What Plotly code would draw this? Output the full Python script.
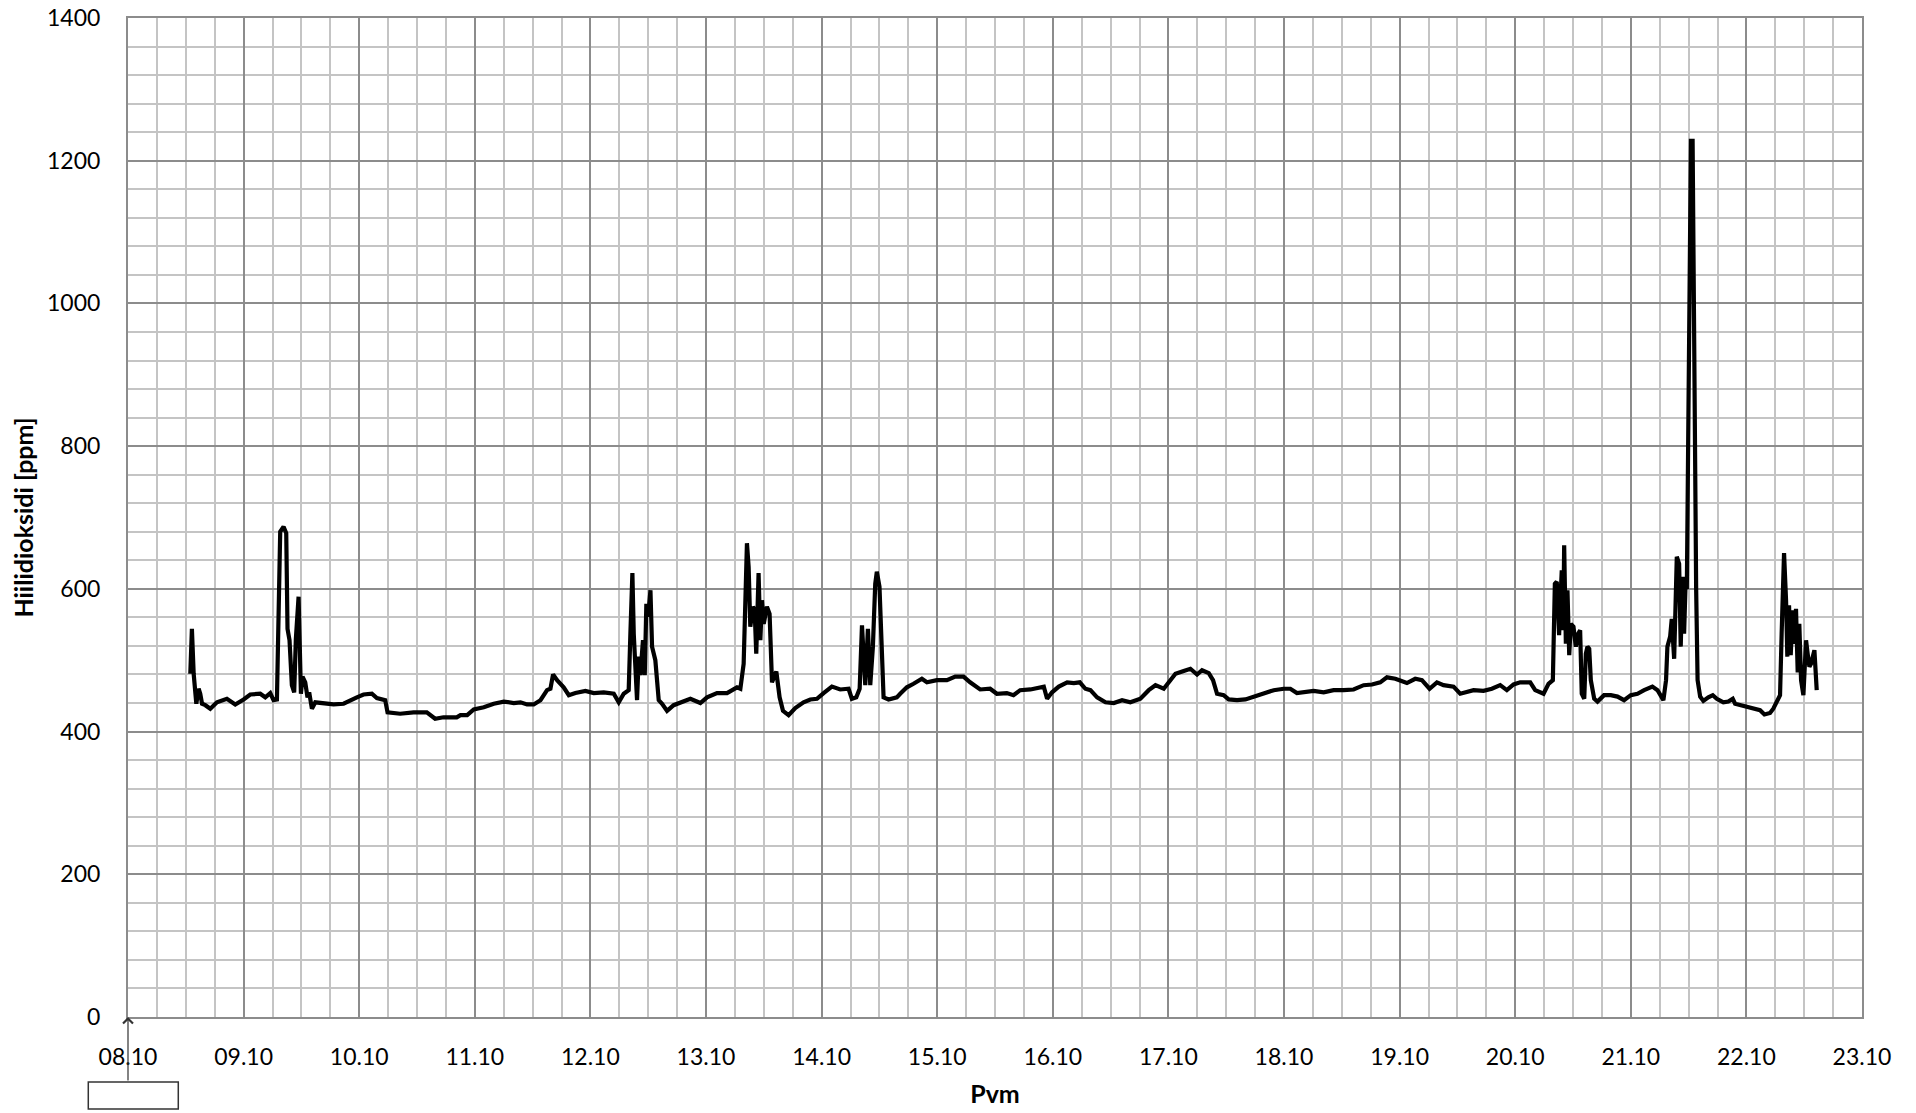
import plotly.graph_objects as go

# CO2 readings (year is not shown, 2014 assumed)
day_times = {
    "08": ["12:56", "13:16", "13:38", "14:11", "14:40", "15:00", "15:22", "16:03", "17:05", "18:28", "20:32", "22:16"],
    "09": ["00:00", "01:23", "03:27", "04:30", "05:32", "06:13", "06:55", "07:36", "08:18", "08:51", "09:07", "09:32",
           "10:01", "10:30", "10:51", "11:25", "11:54", "12:14", "12:48", "13:16", "13:37", "14:11", "14:53", "16:36",
           "18:41", "20:45", "22:08", "23:31"],
    "10": ["00:54", "02:38", "03:40", "05:24", "05:53", "08:30", "11:17", "14:02", "15:46", "17:30", "20:15", "21:01",
           "22:25", "23:47"],
    "11": ["01:52", "03:56", "06:01", "08:05", "09:29", "10:51", "12:14", "13:38", "15:00", "15:42", "16:15", "17:05",
           "18:27", "19:31", "20:53", "22:58"],
    "12": ["00:42", "02:46", "04:51", "05:53", "06:55", "07:57", "08:18", "08:43", "09:00", "09:41", "10:02", "10:22",
           "10:55", "11:17", "11:37", "11:59", "12:28", "12:48", "13:29", "14:11", "14:53", "15:55", "17:17", "18:40",
           "20:45", "22:50"],
    "13": ["00:13", "02:17", "04:22", "06:26", "07:08", "07:49", "08:10", "08:30", "08:51", "09:12", "09:45", "10:06",
           "10:26", "10:55", "11:17", "11:37", "11:59", "12:39", "13:12", "13:42", "14:36", "15:17", "15:59", "17:09",
           "18:32", "20:15", "21:39", "23:02"],
    "14": ["00:25", "02:08", "03:52", "05:36", "06:17", "07:12", "07:54", "08:23", "09:04", "09:37", "10:06", "10:39",
           "11:08", "11:28", "12:01", "12:31", "12:52", "13:54", "15:37", "16:19", "17:42", "19:05", "20:49", "21:52",
           "23:56"],
    "15": ["02:01", "03:45", "05:28", "06:50", "08:55", "10:59", "12:23", "14:27", "15:50", "17:13", "19:22", "21:26",
           "22:08", "22:49", "23:51"],
    "16": ["01:15", "02:59", "04:22", "05:36", "06:46", "07:49", "09:12", "10:56", "12:39", "14:23", "16:06", "18:11",
           "19:55", "21:19", "23:02"],
    "17": ["00:04", "01:28", "03:11", "04:34", "05:57", "06:59", "08:23", "09:16", "10:06", "11:28", "12:31", "14:15",
           "15:59", "17:43", "19:47", "21:52", "23:56"],
    "18": ["01:19", "02:41", "04:05", "06:09", "08:14", "10:18", "12:23", "14:27", "16:32", "18:16", "19:59", "21:22",
           "23:07"],
    "19": ["00:09", "01:31", "03:15", "04:38", "06:13", "07:45", "09:07", "11:12", "12:35", "13:58", "15:21", "17:25",
           "19:09", "20:53", "22:16", "23:40"],
    "20": ["01:02", "03:07", "04:09", "05:53", "06:55", "07:49", "08:14", "08:38", "09:07", "09:29", "09:40", "09:58",
           "10:10", "10:31", "10:51", "11:13", "11:33", "12:06", "12:35", "13:05", "13:29", "13:49", "14:20", "14:40",
           "15:00", "15:22", "15:42", "16:24", "17:05", "18:27", "19:51", "21:14", "22:36"],
    "21": ["00:00", "01:23", "02:46", "04:29", "05:33", "06:46", "07:19", "07:36", "08:10", "08:30", "09:00", "09:33",
           "10:02", "10:22", "10:44", "11:04", "11:25", "11:38", "12:29", "12:50", "13:34", "13:52", "14:24", "15:04",
           "16:06", "17:01", "17:51", "19:13", "20:15", "21:10", "21:39", "22:41"],
    "22": ["00:04", "01:28", "02:50", "03:45", "04:55", "05:35", "06:17", "06:59", "07:19", "07:49", "08:14", "08:30",
           "08:51", "09:12", "09:37", "09:53", "10:18", "10:39", "10:59", "11:21", "11:50", "12:23", "12:43", "13:05",
           "13:25", "14:07", "14:36"],
}

day_values = {
    "08": [481, 544, 481, 439, 460, 453, 439, 437, 432, 441, 446, 438],
    "09": [445, 452, 453, 448, 454, 444, 445, 680, 687, 678, 544, 528,
           465, 455, 530, 589, 453, 477, 469, 448, 455, 432, 441, 439,
           438, 439, 444, 448],
    "10": [452, 453, 447, 444, 427, 425, 427, 427, 418, 420, 420, 423,
           423, 431],
    "11": [434, 439, 442, 440, 441, 438, 438, 444, 458, 460, 480, 472,
           462, 451, 454, 457],
    "12": [454, 455, 453, 441, 453, 458, 537, 622, 537, 444, 505, 479,
           528, 479, 579, 561, 598, 519, 500, 444, 439, 429, 437, 441,
           446, 440],
    "13": [448, 454, 454, 462, 460, 495, 584, 664, 631, 547, 575, 570,
           509, 622, 528, 584, 551, 575, 565, 469, 484, 448, 429, 423,
           433, 441, 445, 446],
    "14": [454, 463, 459, 460, 446, 448, 460, 549, 465, 544, 465, 519,
           607, 624, 603, 528, 448, 445, 448, 453, 462, 467, 474, 469,
           472],
    "15": [472, 477, 477, 469, 459, 460, 453, 454, 451, 458, 459, 462,
           463, 446, 455],
    "16": [463, 469, 468, 469, 460, 458, 448, 441, 440, 444, 441, 446,
           458, 465, 460],
    "17": [469, 481, 485, 488, 480, 486, 482, 472, 453, 451, 445, 444,
           445, 449, 454, 458, 460],
    "18": [460, 454, 455, 457, 455, 458, 458, 459, 465, 466, 469, 476,
           474],
    "19": [472, 468, 474, 472, 460, 469, 465, 463, 453, 455, 458, 457,
           460, 465, 458, 466],
    "20": [469, 469, 458, 453, 467, 472, 607, 610, 535, 598, 626, 542,
           661, 523, 598, 507, 551, 547, 519, 537, 542, 453, 446, 509,
           519, 516, 472, 446, 442, 451, 451, 449, 444],
    "21": [451, 453, 458, 463, 458, 444, 472, 519, 533, 558, 502, 645,
           635, 519, 617, 537, 617, 600, 1228, 1228, 600, 472, 449, 443,
           448, 451, 446, 441, 442, 446, 439, 437],
    "22": [434, 432, 430, 424, 426, 432, 441, 451, 537, 650, 584, 505,
           577, 507, 570, 523, 572, 483, 551, 472, 451, 528, 509, 491,
           495, 514, 458],
}

times = []
co2 = []
for day in day_times:
    times += [f"2014-10-{day} {t}" for t in day_times[day]]
    co2 += day_values[day]

font_family = "Lato, 'Open Sans', sans-serif"

fig = go.Figure()
fig.add_trace(go.Scatter(
    x=times,
    y=co2,
    mode='lines',
    line=dict(color='black', width=4.2),
    showlegend=False
))

fig.update_layout(
    width=1916,
    height=1113,
    margin=dict(l=128, r=54, t=18, b=96),
    paper_bgcolor='white',
    plot_bgcolor='white',
    font=dict(family=font_family, size=23, color='black'),
    xaxis=dict(
        type='date',
        range=['2014-10-08', '2014-10-23'],
        tick0='2014-10-08',
        dtick=86400000,
        tickformat='%d.%m',
        showgrid=True,
        gridcolor='#8c8c8c',
        gridwidth=2,
        minor=dict(dtick=21600000, showgrid=True, gridcolor='#c4c4c4', gridwidth=1.5),
        showline=True,
        linecolor='#8c8c8c',
        linewidth=2,
        mirror=True,
        zeroline=False,
        ticks='',
        automargin=False,
        ticklabelstandoff=18,
        title=dict(text='<b>Pvm</b>', standoff=17, font=dict(size=25)),
    ),
    yaxis=dict(
        range=[0, 1400],
        dtick=200,
        showgrid=True,
        gridcolor='#8c8c8c',
        gridwidth=2,
        minor=dict(dtick=40, showgrid=True, gridcolor='#c4c4c4', gridwidth=1.5),
        showline=True,
        linecolor='#8c8c8c',
        linewidth=2,
        mirror=True,
        zeroline=False,
        ticks='',
        automargin=False,
        ticklabelstandoff=21,
        title=dict(text='<b>Hiilidioksidi [ppm]</b>', standoff=6, font=dict(size=25)),
    ),
)

# empty box with arrow below the origin
fig.add_shape(type='rect', xref='paper', yref='paper',
              x0=-0.0229, x1=0.029, y0=-0.0921, y1=-0.0651,
              line=dict(color='#333333', width=1.5), fillcolor='white')
fig.add_annotation(x=0, y=0, xref='paper', yref='paper', text='',
                   showarrow=True, ax=0, ay=65, arrowhead=4,
                   arrowsize=1.6, arrowwidth=1.2, arrowcolor='#333333')

fig.write_html("out.html", config={'displayModeBar': False},
               post_script="document.body.style.margin='0';document.body.style.overflow='hidden';")
